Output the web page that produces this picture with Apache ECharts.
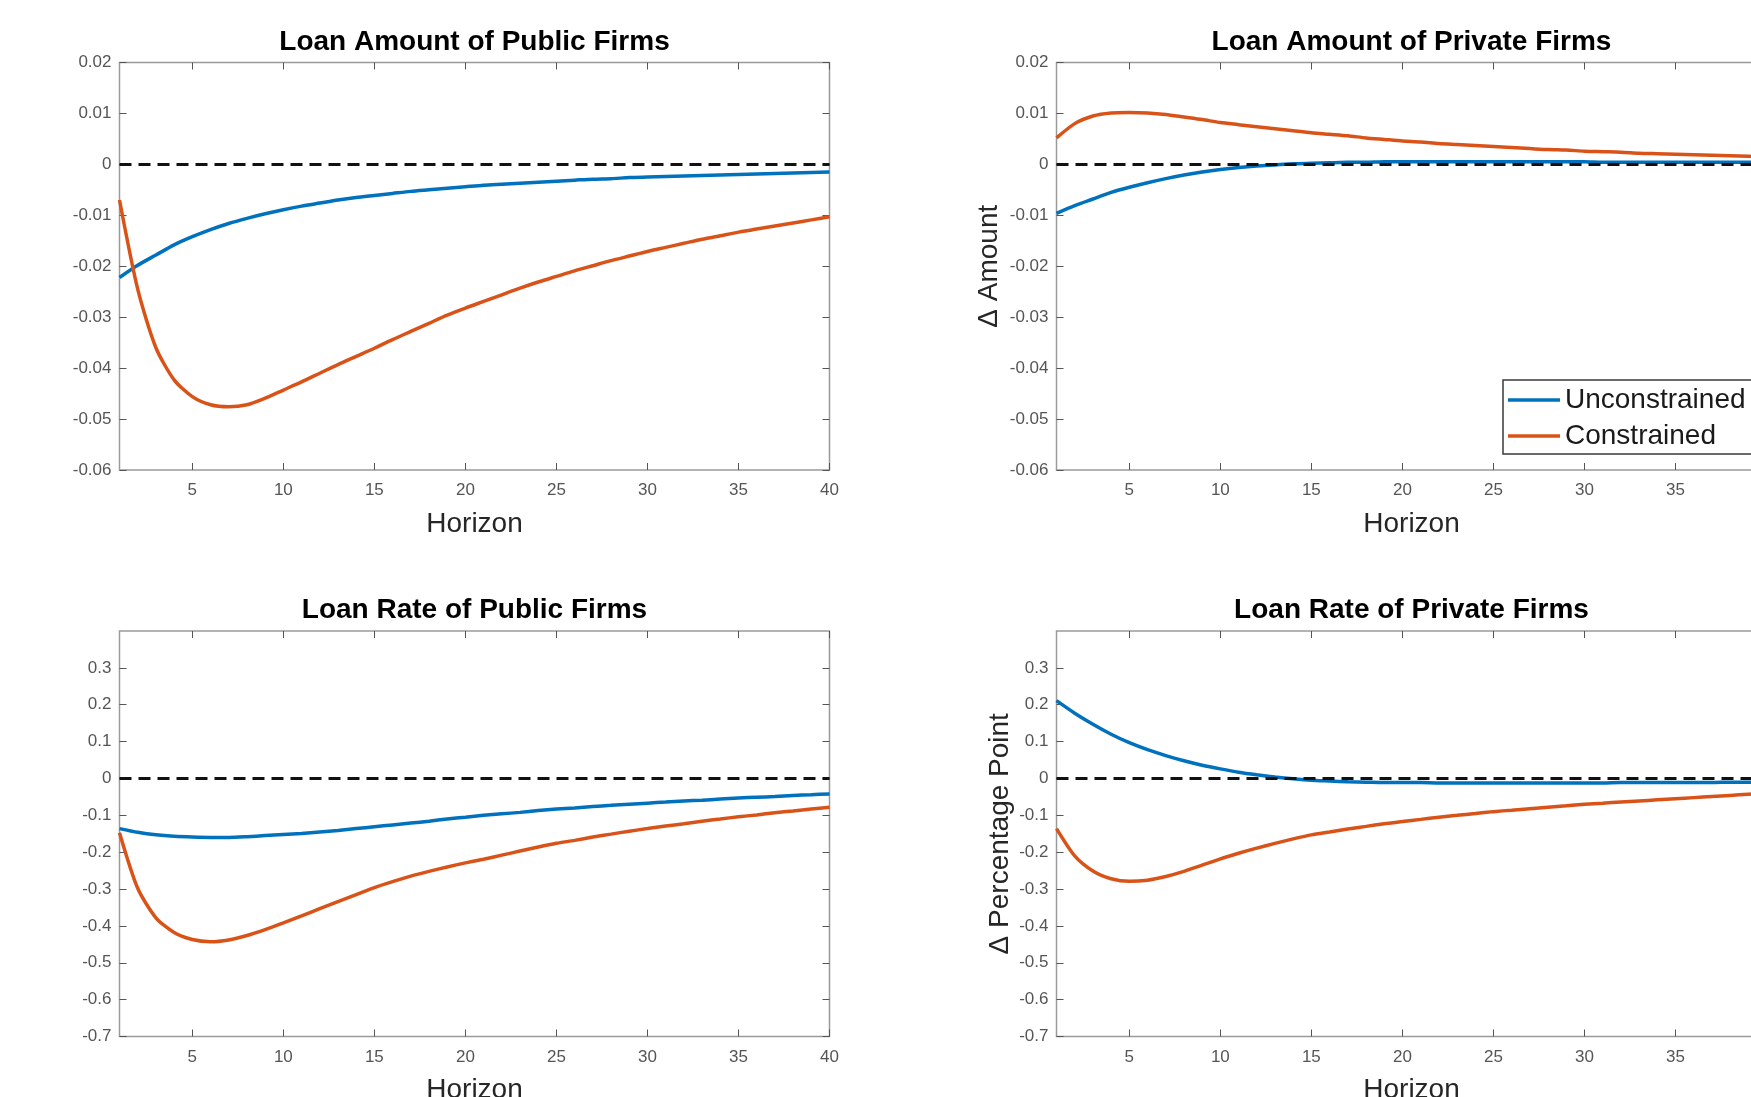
<!DOCTYPE html>
<html>
<head>
<meta charset="utf-8">
<title>Loan responses</title>
<script src="https://cdn.jsdelivr.net/npm/echarts@6/dist/echarts.min.js"></script>
<style>
  html, body { margin: 0; padding: 0; background: #fff; overflow: hidden; }
  #chart { width: 1800px; height: 1097px; }
</style>
</head>
<body>
<div id="chart"></div>
<script>
  var horizon = [1, 2, 3, 4, 5, 6, 7, 8, 9, 10, 11, 12, 13, 14, 15, 16, 17, 18, 19, 20,
    21, 22, 23, 24, 25, 26, 27, 28, 29, 30, 31, 32, 33, 34, 35, 36, 37, 38, 39, 40];
  var xTicks = [5, 10, 15, 20, 25, 30, 35, 40];
  var amountTicks = [-0.06, -0.05, -0.04, -0.03, -0.02, -0.01, 0, 0.01, 0.02];
  var rateTicks = [-0.7, -0.6, -0.5, -0.4, -0.3, -0.2, -0.1, 0, 0.1, 0.2, 0.3];
  var zeroLine = [0, 0];

  // Loan Amount of Public Firms
  var amountPublicUnc = [-0.0222, -0.0198, -0.0178, -0.0158, -0.0142, -0.0128, -0.0116, -0.0106, -0.0097, -0.0089,
    -0.0082, -0.0076, -0.0070, -0.0065, -0.0061, -0.0057, -0.0053, -0.0050, -0.0047, -0.0044,
    -0.0041, -0.0039, -0.0037, -0.0035, -0.0033, -0.0031, -0.0029, -0.0028, -0.0026, -0.0025,
    -0.0024, -0.0023, -0.0022, -0.0021, -0.0020, -0.0019, -0.0018, -0.0017, -0.0016, -0.0015];
  var amountPublicCon = [-0.0070, -0.0245, -0.0360, -0.0423, -0.0456, -0.0472, -0.0476, -0.0472, -0.0459, -0.0443,
    -0.0427, -0.0410, -0.0393, -0.0377, -0.0361, -0.0344, -0.0328, -0.0312, -0.0296, -0.0282,
    -0.0269, -0.0256, -0.0243, -0.0231, -0.0220, -0.0209, -0.0199, -0.0189, -0.0180, -0.0171,
    -0.0163, -0.0155, -0.0147, -0.0140, -0.0133, -0.0127, -0.0121, -0.0115, -0.0109, -0.0103];

  // Loan Amount of Private Firms
  var amountPrivateUnc = [-0.0096, -0.0081, -0.0068, -0.0055, -0.0045, -0.0036, -0.0028, -0.0021, -0.0015, -0.0010,
    -0.0006, -0.0003, -0.0001, 0.0001, 0.0002, 0.0003, 0.0004, 0.0004, 0.0005, 0.0005,
    0.0005, 0.0005, 0.0005, 0.0005, 0.0005, 0.0005, 0.0005, 0.0005, 0.0005, 0.0005,
    0.0004, 0.0004, 0.0004, 0.0004, 0.0004, 0.0004, 0.0004, 0.0004, 0.0004, 0.0004];
  var amountPrivateCon = [0.0052, 0.0080, 0.0095, 0.0101, 0.0102, 0.0101, 0.0098, 0.0093, 0.0088, 0.0082,
    0.0078, 0.0074, 0.0070, 0.0066, 0.0062, 0.0059, 0.0056, 0.0052, 0.0049, 0.0046,
    0.0044, 0.0041, 0.0039, 0.0037, 0.0035, 0.0033, 0.0031, 0.0029, 0.0028, 0.0026,
    0.0025, 0.0024, 0.0022, 0.0021, 0.0020, 0.0019, 0.0018, 0.0017, 0.0016, 0.0015];

  // Loan Rate of Public Firms
  var ratePublicUnc = [-0.136, -0.146, -0.153, -0.157, -0.159, -0.160, -0.160, -0.158, -0.155, -0.152,
    -0.149, -0.145, -0.141, -0.136, -0.131, -0.126, -0.121, -0.116, -0.110, -0.105,
    -0.100, -0.096, -0.092, -0.087, -0.083, -0.080, -0.076, -0.073, -0.070, -0.067,
    -0.064, -0.061, -0.059, -0.056, -0.053, -0.051, -0.049, -0.046, -0.044, -0.042];
  var ratePublicCon = [-0.147, -0.298, -0.378, -0.418, -0.437, -0.443, -0.438, -0.426, -0.410, -0.392,
    -0.373, -0.353, -0.334, -0.315, -0.296, -0.280, -0.265, -0.252, -0.240, -0.229,
    -0.219, -0.208, -0.197, -0.186, -0.176, -0.168, -0.159, -0.151, -0.143, -0.136,
    -0.129, -0.123, -0.116, -0.110, -0.104, -0.099, -0.093, -0.088, -0.083, -0.078];

  // Loan Rate of Private Firms
  var ratePrivateUnc = [0.211, 0.177, 0.147, 0.120, 0.097, 0.078, 0.062, 0.048, 0.036, 0.026,
    0.017, 0.010, 0.004, -0.001, -0.005, -0.007, -0.009, -0.010, -0.011, -0.011,
    -0.011, -0.012, -0.012, -0.012, -0.012, -0.012, -0.012, -0.012, -0.012, -0.012,
    -0.012, -0.011, -0.011, -0.011, -0.011, -0.011, -0.011, -0.010, -0.010, -0.010];
  var ratePrivateCon = [-0.136, -0.210, -0.251, -0.272, -0.279, -0.276, -0.266, -0.252, -0.235, -0.218,
    -0.203, -0.189, -0.176, -0.164, -0.153, -0.145, -0.137, -0.130, -0.123, -0.117,
    -0.111, -0.105, -0.100, -0.095, -0.090, -0.086, -0.082, -0.078, -0.074, -0.070,
    -0.067, -0.064, -0.061, -0.058, -0.055, -0.052, -0.049, -0.046, -0.043, -0.040];

  var titles = ['Loan Amount of Public Firms', 'Loan Amount of Private Firms',
    'Loan Rate of Public Firms', 'Loan Rate of Private Firms'];
  var blue = '#0072BD';
  var orange = '#D95319';
  var font = "'Liberation Sans', Arial, Helvetica, sans-serif";

  // plot boxes (px)
  var boxes = [
    { left: 119.5, top: 62.5, width: 710, height: 407.5 },
    { left: 1056.5, top: 62.5, width: 710, height: 407.5 },
    { left: 119.5, top: 631, width: 710, height: 405.5 },
    { left: 1056.5, top: 631, width: 710, height: 405.5 }
  ];
  var yRanges = [[-0.06, 0.02], [-0.06, 0.02], [-0.7, 0.4], [-0.7, 0.4]];
  var yTickSets = [amountTicks, amountTicks, rateTicks, rateTicks];
  var yNames = ['', '\u0394 Amount', '', '\u0394 Percentage Point'];
  var yNameGaps = [0, 53, 0, 42];
  var seriesSets = [
    [amountPublicUnc, amountPublicCon],
    [amountPrivateUnc, amountPrivateCon],
    [ratePublicUnc, ratePublicCon],
    [ratePrivateUnc, ratePrivateCon]
  ];

  function pairs(values) {
    return horizon.map(function (h, i) { return [h, values[i]]; });
  }

  var tickStyle = { color: '#555', width: 1 };

  var option = {
    backgroundColor: '#fff',
    animation: false,
    textStyle: { fontFamily: font },
    title: [],
    grid: [],
    xAxis: [],
    yAxis: [],
    series: [],
    legend: {
      data: ['Unconstrained', 'Constrained'],
      orient: 'vertical',
      left: 1503,
      top: 380,
      padding: [6, 12, 4, 5],
      itemGap: 8,
      icon: 'rect',
      itemWidth: 52,
      itemHeight: 3.5,
      borderColor: '#3a3a3a',
      borderWidth: 1.5,
      borderRadius: 0,
      backgroundColor: '#fff',
      textStyle: { fontSize: 28, color: '#1a1a1a', fontFamily: font }
    }
  };

  boxes.forEach(function (b, g) {
    option.title.push({
      text: titles[g],
      left: b.left + b.width / 2,
      top: g < 2 ? 42 : 610,
      padding: 0,
      textAlign: 'center',
      textVerticalAlign: 'middle',
      textStyle: { fontSize: 28, fontWeight: 'bold', color: '#000', fontFamily: font }
    });
    option.grid.push({
      left: b.left, top: b.top, width: b.width, height: b.height,
      containLabel: false, outerBoundsMode: 'none',
      show: true, borderColor: '#9a9a9a', borderWidth: 1.5, backgroundColor: '#fff'
    });
    // bottom x axis with labels
    option.xAxis.push({
      type: 'value', gridIndex: g, min: 1, max: 40, position: 'bottom',
      splitLine: { show: false },
      axisLine: { show: false, onZero: false },
      axisTick: { inside: true, length: 7, customValues: xTicks, lineStyle: tickStyle },
      axisLabel: { customValues: xTicks, fontSize: 17, color: '#555', margin: 12, fontFamily: font },
      name: 'Horizon', nameLocation: 'middle', nameGap: 40,
      nameTextStyle: { fontSize: 28, color: '#262626', fontFamily: font }
    });
    // top x axis, ticks only
    option.xAxis.push({
      type: 'value', gridIndex: g, min: 1, max: 40, position: 'top',
      splitLine: { show: false },
      axisLine: { show: false, onZero: false },
      axisTick: { inside: true, length: 7, customValues: xTicks, lineStyle: tickStyle },
      axisLabel: { show: false }
    });
    option.yAxis.push({
      type: 'value', gridIndex: g, min: yRanges[g][0], max: yRanges[g][1], position: 'left',
      splitLine: { show: false },
      axisLine: { show: false, onZero: false },
      axisTick: { inside: true, length: 7, customValues: yTickSets[g], lineStyle: tickStyle },
      axisLabel: { customValues: yTickSets[g], fontSize: 17, color: '#555', margin: 8, fontFamily: font,
        formatter: function (v) { return String(v); } },
      name: yNames[g], nameLocation: 'middle', nameRotate: 90, nameGap: yNameGaps[g],
      nameTextStyle: { fontSize: 28, color: '#262626', fontFamily: font }
    });
    option.yAxis.push({
      type: 'value', gridIndex: g, min: yRanges[g][0], max: yRanges[g][1], position: 'right',
      splitLine: { show: false },
      axisLine: { show: false, onZero: false },
      axisTick: { inside: true, length: 7, customValues: yTickSets[g], lineStyle: tickStyle },
      axisLabel: { show: false }
    });

    option.series.push({
      name: 'Unconstrained', type: 'line', xAxisIndex: g * 2, yAxisIndex: g * 2,
      data: pairs(seriesSets[g][0]), symbol: 'none', smooth: 0.25,
      color: blue, lineStyle: { color: blue, width: 3.5 }, z: 2
    });
    option.series.push({
      name: 'Constrained', type: 'line', xAxisIndex: g * 2, yAxisIndex: g * 2,
      data: pairs(seriesSets[g][1]), symbol: 'none', smooth: 0.25,
      color: orange, lineStyle: { color: orange, width: 3.5 }, z: 2
    });
    option.series.push({
      name: 'zero', type: 'line', xAxisIndex: g * 2, yAxisIndex: g * 2,
      data: [[horizon[0], zeroLine[0]], [horizon[horizon.length - 1], zeroLine[1]]],
      symbol: 'none', silent: true,
      lineStyle: { color: '#111', width: 3, type: [12, 7] }, z: 3
    });
  });

  var chart = echarts.init(document.getElementById('chart'));
  chart.setOption(option);
</script>
</body>
</html>
